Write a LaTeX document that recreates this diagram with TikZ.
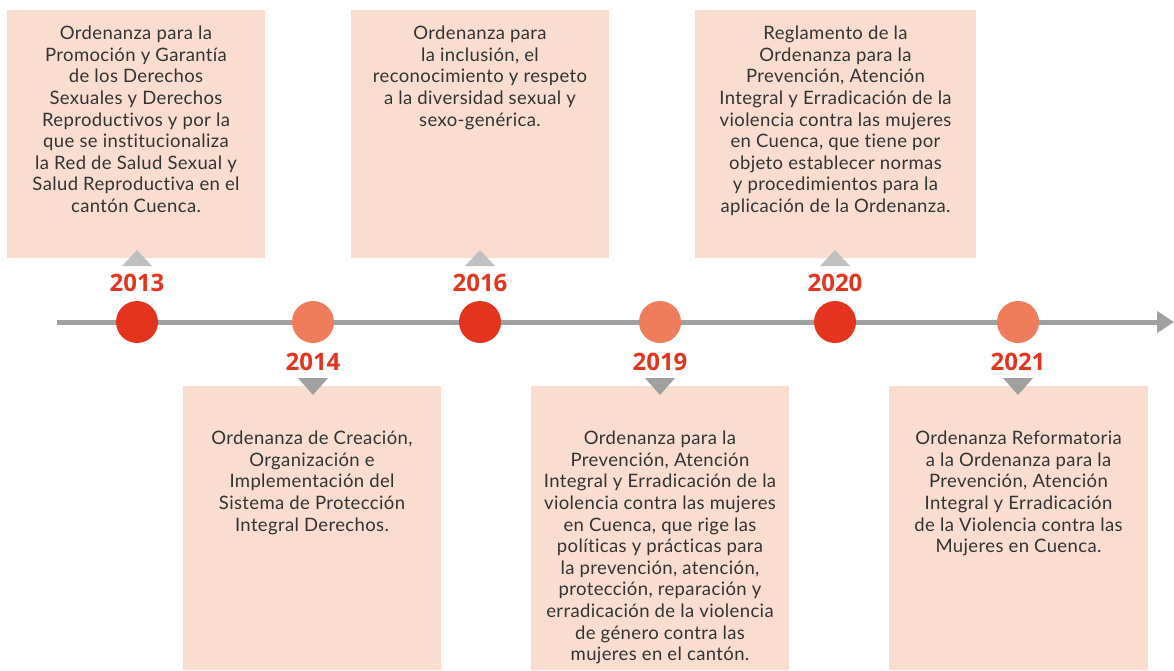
\documentclass[tikz,border=0pt]{standalone}
\usepackage{fontspec}
\setmainfont{Lato}[LetterSpace=2,Ligatures={NoCommon,NoDiscretionary}]
\newfontfamily\yearfont{Open Sans}
\usetikzlibrary{arrows.meta,positioning}
\definecolor{cajafondo}{HTML}{FBDDCF}
\definecolor{rojo}{HTML}{E5341E}
\definecolor{naranja}{HTML}{EF7C5B}
\definecolor{gris}{HTML}{A0A0A0}
\definecolor{grisclaro}{HTML}{C0C0C0}
\definecolor{texto}{HTML}{333333}

\begin{document}
\begin{tikzpicture}[x=1pt,y=-1pt]
\tikzset{every node/.style={inner sep=0pt},
  caja/.style={fill=cajafondo,minimum width=258pt},
  arriba/.style={caja,minimum height=248pt},
  abajo/.style={caja,minimum height=284pt},
  desc/.style={align=center,text=texto,font=\fontsize{18.5}{21.6}\selectfont},
  anio/.style={text=rojo,font=\yearfont\bfseries\fontsize{24}{24}\selectfont},
  hito/.style={circle,minimum size=42pt}}
\useasboundingbox (0,0) rectangle (1174,670);
\node[arriba] (b2013) at (136,134) {};
\node[arriba] (b2016) at (480,134) {};
\node[arriba,minimum width=281pt] (b2020) at (835.5,134) {};
\node[abajo] (b2014) at (312,528) {};
\node[abajo] (b2019) at (660,528) {};
\node[abajo,minimum width=259pt] (b2021) at (1018.5,528) {};
\node[desc,below=16pt of b2013.north] (t2013) {Ordenanza para la\\Promoción y Garantía\\de los Derechos\\Sexuales y Derechos\\Reproductivos y por la\\que se institucionaliza\\la Red de Salud Sexual y\\Salud Reproductiva en el\\cantón Cuenca.};
\node[desc,below=16pt of b2016.north] (t2016) {Ordenanza para\\la inclusión, el\\reconocimiento y respeto\\a la diversidad sexual y\\sexo-genérica.};
\node[desc,below=16pt of b2020.north] (t2020) {Reglamento de la\\Ordenanza para la\\Prevención, Atención\\Integral y Erradicación de la\\violencia contra las mujeres\\en Cuenca, que tiene por\\objeto establecer normas\\y procedimientos para la\\aplicación de la Ordenanza.};
\node[desc,below=45pt of b2014.north] (t2014) {Ordenanza de Creación,\\Organización e\\Implementación del\\Sistema de Protección\\Integral Derechos.};
\node[desc,below=45pt of b2019.north] (t2019) {Ordenanza para la\\Prevención, Atención\\Integral y Erradicación de la\\violencia contra las mujeres\\en Cuenca, que rige las\\políticas y prácticas para\\la prevención, atención,\\protección, reparación y\\erradicación de la violencia\\de género contra las\\mujeres en el cantón.};
\node[desc,below=45pt of b2021.north] (t2021) {Ordenanza Reformatoria\\a la Ordenanza para la\\Prevención, Atención\\Integral y Erradicación\\de la Violencia contra las\\Mujeres en Cuenca.};
\coordinate (inicio) at (57,322);
\coordinate (fin) at (1174,322);
\draw[gris,line width=5pt,-{Triangle[length=17pt,width=21pt]}] (inicio) -- (fin);
\foreach \x/\a in {137/2013,480/2016,835/2020} {
  \fill[grisclaro] (\x,250) -- (\x+15,266) -- (\x-15,266) -- cycle;
  \node[anio] (y\a) at (\x,283) {\a};
  \node[hito,fill=rojo] (c\a) at (\x,322) {};
}
\foreach \x/\a in {313/2014,660/2019,1018/2021} {
  \fill[gris] (\x-15,378) -- (\x+15,378) -- (\x,395) -- cycle;
  \node[anio] (y\a) at (\x,362) {\a};
  \node[hito,fill=naranja] (c\a) at (\x,322) {};
}
\end{tikzpicture}
\end{document}
